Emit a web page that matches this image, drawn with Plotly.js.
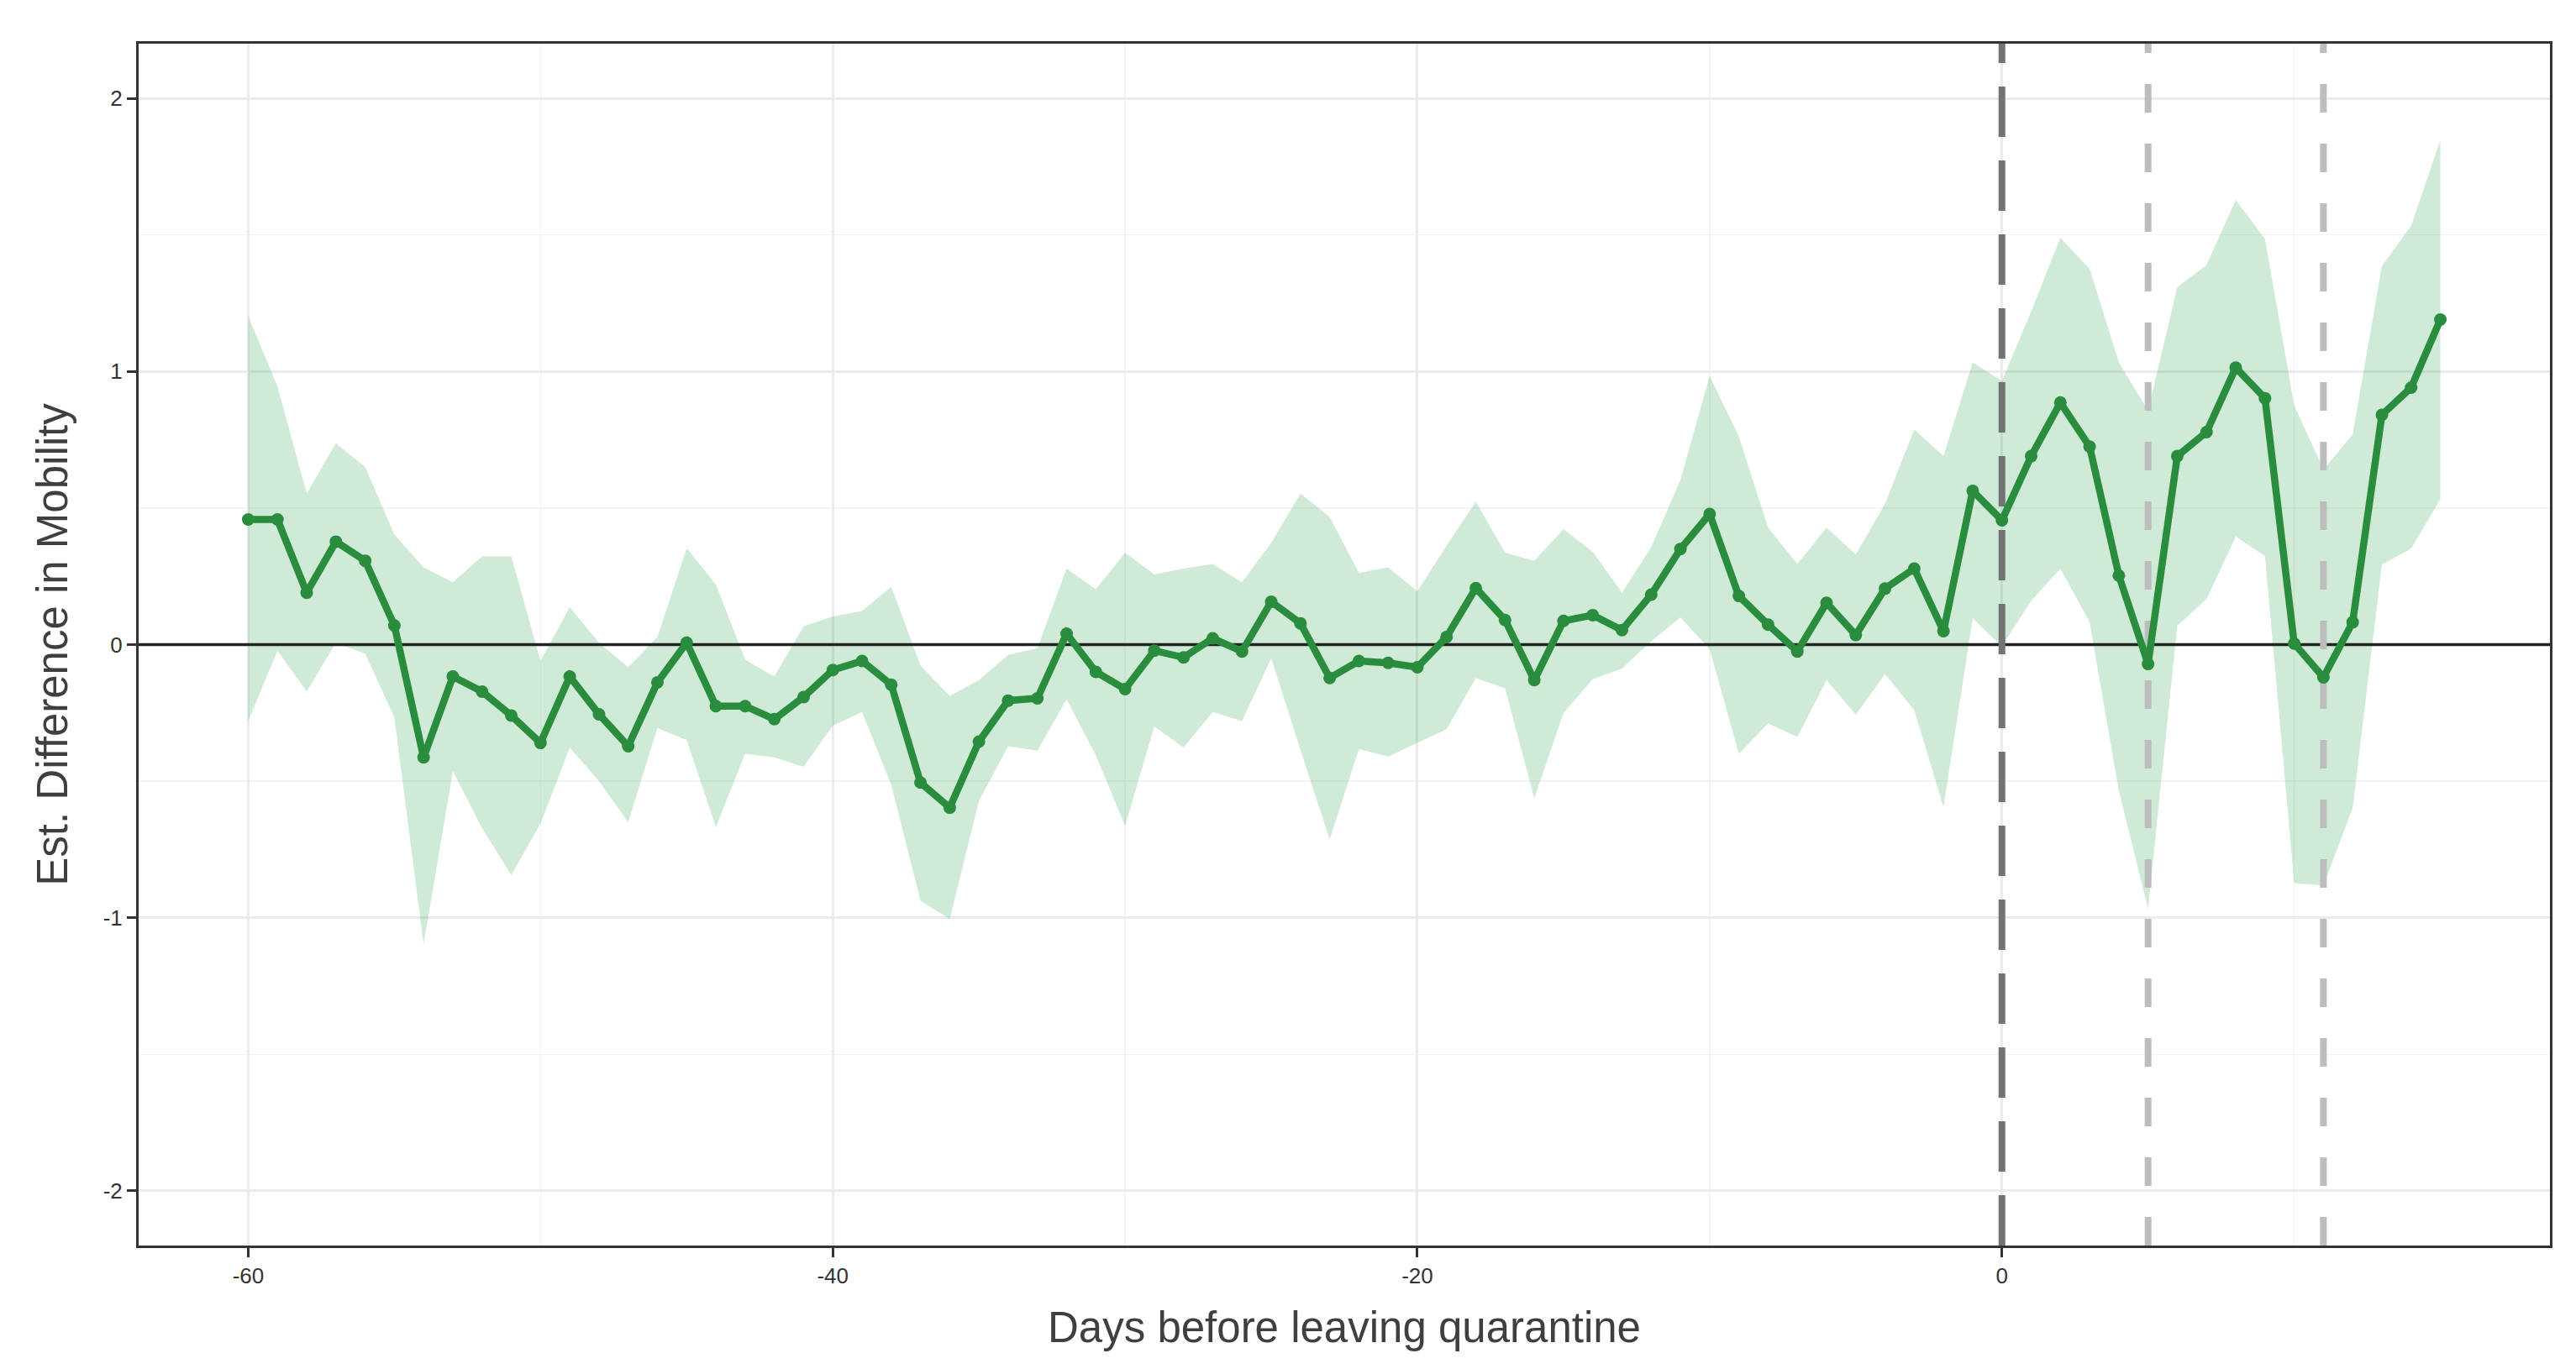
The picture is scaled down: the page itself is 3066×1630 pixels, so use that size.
<!DOCTYPE html>
<html>
<head>
<meta charset="utf-8">
<script src="https://cdn.plot.ly/plotly-3.0.1.min.js"></script>
<style>
  html, body { margin: 0; padding: 0; background: #ffffff; }
  #chart { width: 3066px; height: 1630px; }
</style>
</head>
<body>
<div id="chart"></div>
<script>
// ---- data ----
const days = [-60,-59,-58,-57,-56,-55,-54,-53,-52,-51,-50,-49,-48,-47,-46,-45,-44,-43,-42,-41,
  -40,-39,-38,-37,-36,-35,-34,-33,-32,-31,-30,-29,-28,-27,-26,-25,-24,-23,-22,-21,
  -20,-19,-18,-17,-16,-15,-14,-13,-12,-11,-10,-9,-8,-7,-6,-5,-4,-3,-2,-1,
  0,1,2,3,4,5,6,7,8,9,10,11,12,13,14,15];

const estimate = [0.458,0.458,0.19,0.377,0.307,0.07,-0.413,-0.117,-0.172,-0.26,
  -0.36,-0.117,-0.255,-0.372,-0.138,0.007,-0.225,-0.225,-0.273,-0.192,
  -0.093,-0.06,-0.147,-0.505,-0.597,-0.355,-0.205,-0.197,0.04,-0.1,
  -0.163,-0.022,-0.047,0.023,-0.025,0.157,0.078,-0.122,-0.06,-0.067,
  -0.083,0.028,0.207,0.09,-0.13,0.087,0.108,0.053,0.183,0.35,
  0.478,0.178,0.073,-0.025,0.153,0.035,0.205,0.278,0.049,0.563,
  0.455,0.69,0.886,0.725,0.253,-0.071,0.69,0.778,1.014,0.902,
  0.004,-0.12,0.082,0.841,0.941,1.19];

const upper = [1.203,0.945,0.553,0.737,0.65,0.403,0.283,0.228,0.323,0.323,
  -0.06,0.137,0.007,-0.083,0.028,0.353,0.22,-0.055,-0.117,0.067,
  0.103,0.123,0.212,-0.077,-0.188,-0.13,-0.038,-0.013,0.278,0.203,
  0.337,0.257,0.278,0.295,0.228,0.373,0.553,0.467,0.262,0.283,
  0.195,0.362,0.523,0.337,0.307,0.423,0.34,0.19,0.357,0.603,
  0.983,0.762,0.428,0.295,0.428,0.33,0.515,0.788,0.69,1.033,
  0.965,1.22,1.49,1.376,1.033,0.857,1.308,1.39,1.628,1.484,
  0.876,0.641,0.769,1.386,1.533,1.847];

const lower = [-0.28,-0.022,-0.172,0.007,-0.033,-0.267,-1.097,-0.463,-0.672,-0.843,
  -0.655,-0.377,-0.5,-0.65,-0.305,-0.35,-0.667,-0.4,-0.413,-0.447,
  -0.297,-0.247,-0.513,-0.938,-1.005,-0.572,-0.372,-0.388,-0.2,-0.405,
  -0.663,-0.3,-0.377,-0.247,-0.28,-0.05,-0.385,-0.713,-0.383,-0.41,
  -0.36,-0.31,-0.122,-0.16,-0.563,-0.25,-0.127,-0.088,0.012,0.1,
  -0.017,-0.4,-0.288,-0.338,-0.13,-0.257,-0.108,-0.24,-0.594,0.096,
  -0.006,0.161,0.278,0.082,-0.535,-0.967,0.069,0.167,0.396,0.324,
  -0.873,-0.882,-0.598,0.294,0.351,0.533];

const xRange = [-63.75, 18.75];
const yRange = [-2.2, 2.2];
const xTickVals = [-60, -40, -20, 0];
const xTickText = ['-60', '-40', '-20', '0'];
const yTickVals = [-2, -1, 0, 1, 2];
const yTickText = ['-2', '-1', '0', '1', '2'];

const baselineValue = 0;
const refLineDays = [0, 5, 11];
const refLineStyles = [
  {color: '#737373', dash: '60px,28px'},
  {color: '#bdbdbd', dash: '34px,37px'},
  {color: '#bdbdbd', dash: '34px,37px'}
];

const FONT = 'Liberation Sans, Arial, Helvetica, sans-serif';

// ---- traces ----
const bandLower = {
  x: days, y: lower, type: 'scatter', mode: 'lines',
  line: {width: 0, color: 'rgba(0,0,0,0)'},
  hoverinfo: 'skip', showlegend: false
};
const bandUpper = {
  x: days, y: upper, type: 'scatter', mode: 'lines',
  line: {width: 0, color: 'rgba(0,0,0,0)'},
  fill: 'tonexty', fillcolor: 'rgba(65,171,93,0.25)',
  hoverinfo: 'skip', showlegend: false
};
const baseline = {
  x: xRange, y: [baselineValue, baselineValue], type: 'scatter', mode: 'lines',
  line: {color: '#222222', width: 3.5},
  hoverinfo: 'skip', showlegend: false
};
const refLines = refLineDays.map((d, i) => ({
  x: [d, d], y: [yRange[0], yRange[1]], type: 'scatter', mode: 'lines',
  line: {color: refLineStyles[i].color, width: 8, dash: refLineStyles[i].dash},
  hoverinfo: 'skip', showlegend: false
}));
const mainLine = {
  x: days, y: estimate, type: 'scatter', mode: 'lines+markers',
  line: {color: '#2a8c3d', width: 8.5},
  marker: {color: '#2a8c3d', size: 15},
  showlegend: false
};

const axisCommon = {
  showline: true, mirror: true, linecolor: '#333333', linewidth: 3,
  ticks: 'outside', ticklen: 11, tickwidth: 3, tickcolor: '#333333',
  tickfont: {family: FONT, size: 26, color: '#333333'},
  showgrid: true, gridcolor: '#ebebeb', gridwidth: 3,
  zeroline: false, automargin: false, fixedrange: true
};

const layout = {
  width: 3066, height: 1630,
  margin: {l: 165, r: 31, t: 52, b: 147},
  paper_bgcolor: '#ffffff', plot_bgcolor: '#ffffff',
  font: {family: FONT},
  showlegend: false,
  xaxis: Object.assign({}, axisCommon, {
    range: xRange,
    tickmode: 'array', tickvals: xTickVals, ticktext: xTickText,
    minor: {tickmode: 'array', tickvals: [-50, -30, -10, 10], showgrid: true,
            gridcolor: '#f3f3f3', gridwidth: 1.5, ticks: ''},
    title: {text: 'Days before leaving quarantine', standoff: 30,
            font: {family: FONT, size: 51, color: '#3f3f3f'}}
  }),
  yaxis: Object.assign({}, axisCommon, {
    range: yRange,
    tickmode: 'array', tickvals: yTickVals, ticktext: yTickText,
    minor: {tickmode: 'array', tickvals: [-1.5, -0.5, 0.5, 1.5], showgrid: true,
            gridcolor: '#f3f3f3', gridwidth: 1.5, ticks: ''},
    title: {text: 'Est. Difference in Mobility', standoff: 26,
            font: {family: FONT, size: 51, color: '#3f3f3f'}}
  })
};

Plotly.newPlot('chart', [bandLower, bandUpper, baseline].concat(refLines, [mainLine]), layout,
  {displayModeBar: false, staticPlot: true});
</script>
</body>
</html>
